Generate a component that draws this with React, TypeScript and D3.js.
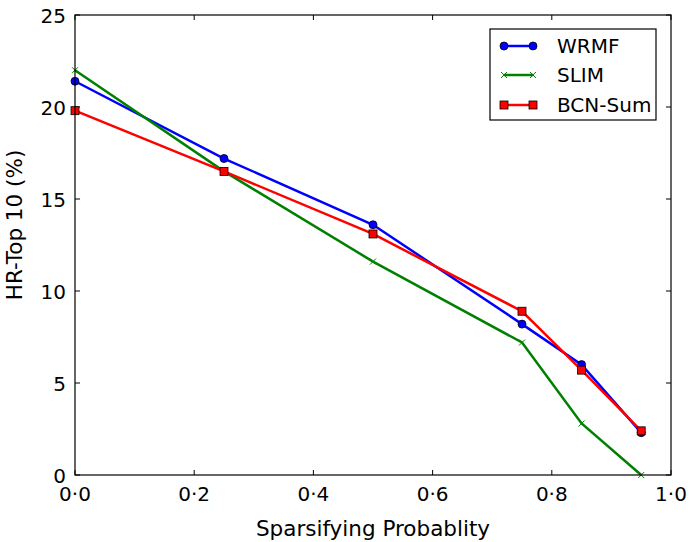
import React from 'react';
import * as d3 from 'd3';

const probs = [0, 0.25, 0.5, 0.75, 0.85, 0.95];
const wrmf = [21.4, 17.2, 13.6, 8.2, 6.0, 2.3];
const slim = [22.0, 16.5, 11.6, 7.2, 2.8, 0.0];
const bcnSum = [19.8, 16.5, 13.1, 8.9, 5.7, 2.4];
const xTicks = [0, 0.2, 0.4, 0.6, 0.8, 1.0];
const yTicks = [0, 5, 10, 15, 20, 25];

const series = [
  { name: 'WRMF', values: wrmf, color: '#0000ff', marker: 'circle' },
  { name: 'SLIM', values: slim, color: '#008000', marker: 'x' },
  { name: 'BCN-Sum', values: bcnSum, color: '#ff0000', marker: 'square' },
];

const W = 690;
const H = 542;
const left = 75, right = 671, top = 15, bottom = 475;
const font = 'DejaVu Sans, sans-serif';

function Marker({ kind, x, y, color }: { kind: string; x: number; y: number; color: string }) {
  if (kind === 'circle') return <circle cx={x} cy={y} r={4} fill={color} stroke="#000" strokeWidth={0.8} />;
  if (kind === 'square') return <rect x={x - 4} y={y - 4} width={8} height={8} fill={color} stroke="#000" strokeWidth={0.8} />;
  return (
    <path d={`M${x - 3},${y - 3}L${x + 3},${y + 3}M${x - 3},${y + 3}L${x + 3},${y - 3}`} stroke={color} strokeWidth={1} />
  );
}

export default function App() {
  const x = d3.scaleLinear().domain([0, 1]).range([left, right]);
  const y = d3.scaleLinear().domain([0, 25]).range([bottom, top]);
  const line = d3.line<[number, number]>().x(d => x(d[0])).y(d => y(d[1]));

  const legendRows = [46, 75, 105];

  return (
    <svg width={W} height={H} style={{ position: 'absolute', left: 0, top: 0, background: '#fff' }} fontFamily={font}>
      <defs>
        <clipPath id="plot">
          <rect x={left - 6} y={top} width={right - left + 6} height={bottom - top + 6} />
        </clipPath>
      </defs>
      {/* ticks */}
      {xTicks.map(t => (
        <g key={'x' + t}>
          <line x1={x(t)} x2={x(t)} y1={bottom} y2={bottom - 5} stroke="#000" />
          <line x1={x(t)} x2={x(t)} y1={top} y2={top + 5} stroke="#000" />
          <text x={x(t)} y={bottom + 26} fontSize={20} textAnchor="middle">{d3.format('.1f')(t).replace('.', '·')}</text>
        </g>
      ))}
      {yTicks.map(t => (
        <g key={'y' + t}>
          <line x1={left} x2={left + 5} y1={y(t)} y2={y(t)} stroke="#000" />
          <line x1={right} x2={right - 5} y1={y(t)} y2={y(t)} stroke="#000" />
          <text x={left - 9} y={y(t) + 7.5} fontSize={20} textAnchor="end">{t}</text>
        </g>
      ))}
      <g clipPath="url(#plot)">
        {series.map(s => {
          const pts = probs.map((p, i) => [p, s.values[i]] as [number, number]);
          return (
            <g key={s.name}>
              <path d={line(pts) || ''} fill="none" stroke={s.color} strokeWidth={2.5} />
              {pts.map((d, i) => (
                <Marker key={i} kind={s.marker} x={x(d[0])} y={y(d[1])} color={s.color} />
              ))}
            </g>
          );
        })}
      </g>
      <rect x={left} y={top} width={right - left} height={bottom - top} fill="none" stroke="#000" strokeWidth={1.2} />
      {/* legend */}
      <rect x={490} y={29} width={166} height={91} fill="#fff" stroke="#000" strokeWidth={1.2} />
      {series.map((s, i) => (
        <g key={s.name}>
          <line x1={504} x2={533} y1={legendRows[i]} y2={legendRows[i]} stroke={s.color} strokeWidth={2.5} />
          <Marker kind={s.marker} x={504} y={legendRows[i]} color={s.color} />
          <Marker kind={s.marker} x={533} y={legendRows[i]} color={s.color} />
          <text x={557} y={legendRows[i] + 7} fontSize={20}>{s.name}</text>
        </g>
      ))}
      <text x={373} y={536} fontSize={21.5} textAnchor="middle">Sparsifying Probablity</text>
      <text transform={`translate(22,225) rotate(-90)`} fontSize={21.5} textAnchor="middle">HR-Top 10 (%)</text>
    </svg>
  );
}
